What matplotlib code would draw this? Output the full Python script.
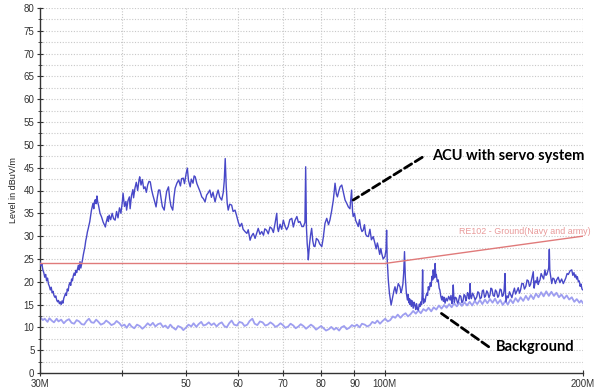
import matplotlib
matplotlib.use("Agg")
import matplotlib.pyplot as plt
from matplotlib.ticker import FixedLocator, NullFormatter

# ---------------- data (frequency MHz, level dBuV/m) ----------------
acu_points = [
    (30.0, 24.3), (30.1, 23.5), (30.2, 23.9), (30.3, 22.6), (30.4, 22.0), (30.5, 21.0), (30.6, 21.6),
    (30.7, 20.2), (30.8, 20.8), (30.9, 19.5), (31.0, 19.0), (31.1, 18.2), (31.2, 18.8), (31.3, 17.6),
    (31.4, 17.9), (31.5, 17.0), (31.6, 16.6), (31.7, 16.9), (31.8, 16.0), (31.9, 15.6), (32.0, 15.9),
    (32.1, 15.2), (32.2, 15.6), (32.3, 15.0), (32.4, 15.8), (32.5, 15.3), (32.6, 16.4), (32.7, 16.9),
    (32.8, 17.5), (32.9, 17.0), (33.0, 18.4), (33.1, 18.0), (33.2, 19.3), (33.3, 19.8), (33.4, 19.2),
    (33.5, 20.6), (33.6, 20.2), (33.7, 21.3), (33.8, 21.9), (33.9, 21.4), (34.0, 22.5), (34.1, 22.0),
    (34.2, 22.8), (34.3, 23.6), (34.4, 22.6), (34.5, 24.4), (34.6, 23.0), (34.7, 23.9), (34.8, 24.8),
    (34.9, 25.9), (35.0, 26.8), (35.1, 27.7), (35.2, 29.0), (35.3, 29.8), (35.4, 30.9), (35.5, 31.6),
    (35.6, 32.4), (35.7, 33.2), (35.8, 34.4), (35.9, 35.6), (36.0, 36.4), (36.1, 37.2), (36.2, 36.0),
    (36.3, 37.6), (36.4, 38.0), (36.5, 37.1), (36.6, 38.8), (36.7, 37.5), (36.8, 36.8), (36.9, 35.9),
    (37.0, 35.0), (37.2, 34.2), (37.4, 33.1), (37.6, 32.4), (37.7, 32.0), (37.8, 33.0), (38.0, 34.3),
    (38.1, 33.2), (38.2, 34.6), (38.4, 33.6), (38.6, 35.0), (38.8, 33.8), (39.0, 33.5), (39.2, 35.4),
    (39.4, 34.0), (39.6, 36.2), (39.8, 35.0), (40.0, 37.5), (40.1, 39.4), (40.3, 36.5), (40.5, 37.6),
    (40.6, 35.7), (40.8, 37.8), (41.0, 38.6), (41.1, 36.0), (41.3, 38.9), (41.5, 40.2), (41.6, 38.4),
    (41.8, 40.5), (42.0, 41.8), (42.2, 40.0), (42.4, 42.3), (42.5, 43.0), (42.7, 41.2), (42.9, 42.4),
    (43.1, 40.4), (43.3, 40.8), (43.5, 39.6), (43.7, 41.2), (43.9, 42.0), (44.1, 41.9), (44.3, 40.2),
    (44.5, 39.0), (44.7, 38.0), (45.0, 36.4), (45.2, 38.5), (45.4, 40.1), (45.6, 40.1), (45.8, 38.2),
    (46.0, 36.5), (46.3, 35.7), (46.5, 38.0), (46.7, 39.8), (47.0, 40.8), (47.2, 38.2), (47.4, 36.6),
    (47.7, 35.7), (47.9, 38.5), (48.1, 40.5), (48.4, 41.6), (48.7, 42.3), (49.0, 41.0), (49.2, 42.6),
    (49.5, 42.7), (49.7, 41.5), (50.0, 43.8), (50.2, 44.9), (50.4, 42.2), (50.7, 40.8), (50.9, 42.5),
    (51.2, 41.6), (51.4, 43.2), (51.6, 43.0), (51.9, 41.5), (52.2, 40.6), (52.5, 39.7), (52.8, 38.6),
    (53.1, 38.2), (53.4, 37.5), (53.7, 39.0), (54.0, 39.5), (54.3, 40.1), (54.6, 38.5), (54.9, 39.6),
    (55.3, 37.5), (55.6, 39.0), (55.9, 40.1), (56.2, 38.6), (56.6, 37.9), (56.9, 39.5), (57.1, 42.0),
    (57.3, 47.0), (57.5, 41.0), (57.7, 37.2), (57.9, 35.7), (58.2, 37.0), (58.6, 36.8), (58.9, 35.4),
    (59.3, 35.7), (59.6, 34.6), (60.0, 33.0), (60.3, 32.1), (60.7, 32.8), (61.0, 31.5), (61.4, 31.0),
    (61.8, 30.6), (62.1, 31.4), (62.5, 29.1), (62.8, 30.0), (63.2, 30.6), (63.6, 29.5), (64.0, 30.8),
    (64.3, 31.7), (64.7, 30.4), (65.1, 31.0), (65.5, 30.2), (65.8, 31.6), (66.2, 31.3), (66.6, 30.5),
    (67.0, 32.0), (67.4, 31.7), (67.8, 30.8), (68.2, 32.8), (68.6, 35.0), (68.8, 31.8), (69.0, 31.0),
    (69.4, 32.6), (69.8, 31.5), (70.2, 33.5), (70.6, 32.2), (71.0, 31.4), (71.4, 32.1), (71.8, 33.6),
    (72.3, 33.9), (72.7, 32.0), (73.1, 33.4), (73.6, 34.3), (74.0, 33.0), (74.4, 33.2), (74.9, 32.1),
    (75.3, 32.1), (75.7, 33.0), (75.9, 45.2), (76.1, 32.0), (76.3, 28.4), (76.5, 26.5), (76.6, 24.8),
    (76.9, 28.0), (77.2, 30.2), (77.5, 31.7), (77.8, 29.0), (78.1, 27.8), (78.4, 27.7), (78.8, 29.5),
    (79.3, 29.1), (79.7, 28.3), (80.3, 27.7), (80.7, 29.6), (81.2, 32.8), (81.7, 33.9), (82.2, 32.5),
    (82.6, 33.5), (83.1, 35.5), (83.6, 37.9), (84.1, 41.6), (84.5, 39.2), (84.8, 38.6), (85.2, 39.8),
    (85.6, 40.8), (86.1, 41.2), (86.6, 39.5), (87.1, 37.9), (87.6, 37.2), (88.1, 36.4), (88.6, 36.0),
    (89.1, 40.1), (89.4, 35.5), (89.6, 34.3), (90.0, 35.0), (90.4, 33.4), (90.8, 32.8), (91.2, 32.1),
    (91.6, 33.6), (92.0, 31.8), (92.4, 31.0), (92.8, 31.3), (93.2, 32.5), (93.6, 30.4), (94.0, 30.0),
    (94.5, 29.9), (95.0, 31.5), (95.5, 29.2), (96.1, 29.9), (96.6, 28.6), (97.1, 27.2), (97.5, 28.5),
    (97.8, 27.7), (98.3, 26.0), (98.7, 27.3), (99.0, 26.2), (99.5, 25.0), (100.1, 25.5), (100.5, 27.0),
    (100.7, 31.3), (100.9, 25.0), (101.3, 20.4), (101.7, 17.5), (102.0, 16.2), (102.3, 14.9), (102.8, 16.5),
    (103.3, 18.0), (103.7, 18.9), (104.2, 17.4), (104.6, 18.8), (104.9, 19.6), (105.5, 18.9), (105.9, 17.6),
    (106.2, 18.2), (106.6, 19.5), (106.9, 22.0), (107.2, 26.6), (107.5, 21.0), (107.9, 17.5), (108.3, 16.0),
    (108.6, 17.2), (108.8, 15.4), (109.1, 16.3), (109.3, 15.0), (109.6, 16.0), (109.8, 14.6), (110.2, 15.8),
    (110.5, 14.2), (110.9, 15.5), (111.2, 14.8), (111.5, 13.9), (111.8, 15.2), (112.2, 14.0), (112.5, 13.8),
    (112.9, 15.1), (113.2, 14.6), (113.5, 15.6), (113.8, 15.0), (114.0, 17.0), (114.2, 22.6), (114.4, 16.5),
    (114.6, 15.3), (114.8, 16.2), (115.2, 15.6), (115.5, 16.8), (115.9, 17.5), (116.2, 17.0), (116.5, 18.9),
    (116.9, 18.2), (117.3, 19.8), (117.6, 19.0), (118.0, 21.2), (118.3, 20.4), (118.5, 22.6), (118.8, 20.8),
    (119.0, 21.5), (119.3, 24.0), (119.6, 21.0), (119.8, 21.6), (120.2, 20.0), (120.6, 20.4), (121.0, 18.6),
    (121.3, 18.2), (121.7, 16.8), (122.1, 16.0), (122.4, 16.8), (122.8, 15.7), (123.1, 16.6), (123.5, 15.3),
    (124.0, 16.4), (124.5, 15.8), (125.1, 16.8), (125.7, 16.0), (126.1, 17.0), (126.5, 15.2), (126.8, 16.4),
    (127.1, 19.3), (127.4, 16.2), (127.6, 15.5), (128.0, 16.6), (128.5, 16.4), (129.0, 15.3), (129.4, 15.6),
    (130.0, 17.0), (130.5, 16.8), (131.0, 15.4), (131.5, 15.8), (132.0, 17.2), (132.5, 16.9), (132.8, 15.8),
    (133.2, 16.4), (133.6, 17.6), (134.0, 17.2), (134.4, 16.2), (134.8, 19.6), (135.1, 16.8), (135.4, 16.3),
    (136.0, 17.5), (136.5, 17.0), (137.2, 16.0), (138.0, 16.7), (138.5, 17.8), (139.0, 17.6), (139.6, 16.3),
    (140.2, 16.5), (140.7, 18.0), (141.2, 18.2), (141.8, 16.6), (142.3, 16.9), (142.9, 18.0), (143.4, 17.6),
    (144.0, 16.5), (144.5, 17.1), (145.0, 18.6), (145.5, 18.4), (146.1, 17.0), (146.7, 16.8), (147.3, 18.2),
    (147.9, 17.8), (148.5, 16.6), (149.0, 16.9), (149.7, 18.4), (150.3, 18.2), (150.8, 16.8), (151.3, 17.0),
    (151.8, 18.0), (152.3, 21.8), (152.6, 17.0), (152.8, 15.6), (153.4, 16.9), (154.0, 16.5), (154.7, 17.8),
    (155.3, 17.2), (156.0, 16.5), (156.8, 17.8), (157.4, 18.6), (158.0, 17.3), (158.8, 18.0), (159.5, 18.7),
    (160.2, 17.5), (160.8, 18.2), (161.5, 19.6), (162.3, 19.6), (163.0, 18.4), (163.8, 19.0), (164.5, 20.4),
    (165.2, 20.2), (165.9, 19.0), (166.5, 19.4), (167.3, 20.8), (168.1, 22.2), (168.4, 19.6), (168.6, 18.6),
    (169.3, 20.2), (170.0, 19.8), (170.5, 21.0), (171.0, 19.4), (171.6, 20.0), (172.1, 20.4), (172.8, 21.8),
    (173.5, 21.2), (174.3, 20.6), (175.1, 22.6), (175.7, 21.4), (176.3, 21.6), (176.9, 22.4), (177.4, 23.0),
    (177.8, 27.1), (178.1, 22.6), (178.3, 22.0), (178.8, 20.8), (179.3, 19.6), (180.0, 20.8), (180.8, 20.6),
    (181.6, 19.6), (182.4, 20.4), (183.4, 21.0), (184.5, 19.8), (185.6, 20.6), (186.7, 19.6), (187.5, 20.2),
    (188.3, 20.8), (189.2, 21.8), (190.0, 21.6), (191.2, 22.4), (192.3, 22.6), (193.0, 21.4), (193.8, 22.0),
    (194.4, 21.0), (195.0, 21.5), (195.6, 20.6), (196.1, 21.1), (196.8, 20.0), (197.4, 20.2), (198.0, 19.0),
    (198.6, 19.5), (199.3, 18.4), (200.0, 18.2),
]

bg_points = [
    (30.0, 12.3), (30.3, 11.6), (30.5, 11.9), (30.8, 11.2), (31.0, 12.0), (31.3, 11.4), (31.5, 11.1),
    (31.8, 11.9), (32.0, 11.3), (32.3, 11.7), (32.6, 10.9), (32.9, 11.5), (33.2, 11.8), (33.5, 11.0),
    (33.8, 10.8), (34.1, 11.6), (34.4, 11.3), (34.7, 10.7), (35.0, 10.6), (35.3, 11.4), (35.6, 11.9),
    (35.9, 11.1), (36.2, 11.0), (36.5, 11.7), (36.8, 11.2), (37.1, 10.6), (37.5, 10.9), (37.8, 11.5),
    (38.2, 11.0), (38.5, 10.5), (38.9, 10.8), (39.2, 11.4), (39.6, 10.9), (39.9, 10.3), (40.3, 10.6),
    (40.6, 9.9), (41.0, 10.8), (41.3, 10.2), (41.7, 9.8), (42.1, 10.6), (42.5, 10.3), (42.9, 9.7),
    (43.3, 10.2), (43.7, 10.9), (44.1, 10.4), (44.5, 11.0), (44.9, 10.2), (45.3, 10.7), (45.7, 10.9),
    (46.1, 10.1), (46.5, 10.4), (46.9, 9.8), (47.3, 10.6), (47.7, 10.0), (48.2, 9.5), (48.6, 10.3),
    (49.1, 10.0), (49.5, 9.4), (50.0, 10.0), (50.4, 10.6), (50.9, 10.2), (51.3, 10.9), (51.8, 10.1),
    (52.2, 10.7), (52.7, 11.2), (53.1, 10.4), (53.6, 10.6), (54.1, 11.1), (54.6, 10.5), (55.1, 10.9),
    (55.6, 10.2), (56.1, 10.8), (56.6, 11.1), (57.1, 10.3), (57.6, 10.0), (58.1, 10.9), (58.6, 11.5),
    (59.1, 10.6), (59.7, 10.4), (60.2, 11.2), (60.8, 11.0), (61.3, 10.3), (61.9, 10.6), (62.4, 11.4),
    (63.0, 11.9), (63.5, 10.8), (64.1, 10.5), (64.7, 11.3), (65.3, 11.1), (65.9, 10.4), (66.5, 10.6),
    (67.1, 11.1), (67.7, 10.7), (68.3, 10.1), (68.9, 10.4), (69.5, 10.9), (70.1, 10.5), (70.7, 9.9),
    (71.4, 10.2), (72.0, 10.8), (72.7, 10.4), (73.3, 9.8), (74.0, 10.2), (74.6, 10.7), (75.3, 10.3),
    (76.0, 9.7), (76.6, 10.1), (77.3, 10.6), (78.0, 10.2), (78.7, 9.5), (79.4, 9.9), (80.1, 10.3),
    (80.8, 9.8), (81.5, 9.3), (82.3, 9.6), (83.0, 10.1), (83.8, 9.5), (84.5, 9.9), (85.3, 9.3),
    (86.0, 10.0), (86.8, 10.3), (87.6, 9.6), (88.4, 9.9), (89.2, 10.5), (90.0, 10.2), (90.8, 10.6),
    (91.6, 10.0), (92.4, 10.8), (93.3, 10.6), (94.1, 10.2), (95.0, 10.5), (95.8, 11.2), (96.7, 10.9),
    (97.5, 11.5), (98.4, 10.8), (99.3, 11.4), (100.2, 11.9), (101.1, 11.3), (102.0, 11.6), (102.9, 12.4),
    (103.8, 12.1), (104.7, 12.8), (105.7, 12.1), (106.6, 12.7), (107.6, 13.1), (108.5, 12.4), (109.5, 12.9),
    (110.5, 13.6), (111.5, 13.0), (112.5, 13.7), (113.5, 13.1), (114.5, 14.0), (115.6, 13.6), (116.6, 14.3),
    (117.7, 13.5), (118.7, 14.4), (119.8, 13.9), (120.9, 14.8), (122.0, 14.1), (123.1, 14.9), (124.2, 14.3),
    (125.3, 15.1), (126.4, 14.4), (127.5, 15.3), (128.7, 14.6), (129.9, 15.4), (131.0, 14.7), (132.2, 15.5),
    (133.4, 14.8), (134.6, 15.6), (135.8, 14.8), (137.0, 15.8), (138.2, 15.1), (139.5, 16.0), (140.7, 15.1),
    (142.0, 16.1), (143.2, 15.3), (144.5, 16.2), (145.8, 15.4), (147.1, 16.3), (148.4, 15.2), (149.8, 16.0),
    (151.1, 14.9), (152.5, 15.8), (153.8, 15.0), (155.2, 16.1), (156.6, 15.3), (158.0, 16.4), (159.4, 15.6),
    (160.8, 16.6), (162.3, 15.8), (163.8, 16.9), (165.2, 16.0), (166.7, 17.1), (168.2, 16.2), (169.7, 17.4),
    (171.2, 16.6), (172.8, 17.7), (174.3, 16.8), (175.9, 17.9), (177.5, 16.9), (179.1, 17.8), (180.7, 16.9),
    (182.3, 17.6), (183.9, 16.6), (185.5, 17.2), (187.2, 16.3), (188.9, 17.0), (190.6, 16.1), (192.3, 16.6),
    (194.0, 15.6), (195.7, 16.2), (197.5, 15.4), (198.7, 15.9), (200.0, 15.3),
]

acu_freq = [p[0] for p in acu_points]
acu_level = [p[1] for p in acu_points]
bg_freq = [p[0] for p in bg_points]
bg_level = [p[1] for p in bg_points]

limit_freq = [30.0, 100.0, 200.0]
limit_level = [24.0, 24.0, 30.0]

x_ticks = [30, 40, 50, 60, 70, 80, 90, 100, 200]
x_tick_labels = ["30M", "", "50", "60", "70", "80", "90", "100M", "200M"]
y_ticks = list(range(0, 81, 5))

# ---------------- figure ----------------
fig = plt.figure(figsize=(5.94, 3.91), dpi=100)
ax = fig.add_axes([40 / 594, 1 - 373 / 391, 543 / 594, 365 / 391])
ax.set_xscale("log")
ax.set_xlim(30, 200)
ax.set_ylim(0, 80)

grid_kw = dict(color="#c8c8c8", linestyle=(0, (1, 1.5)), linewidth=0.8, zorder=0)
for yv in [i * 2.5 for i in range(1, 33)]:
    ax.axhline(yv, **grid_kw)
for xv in [40, 50, 60, 70, 80, 90, 100, 200]:
    ax.axvline(xv, **grid_kw)

ax.plot(bg_freq, bg_level, color="#9e9ef0", linewidth=1.3, zorder=2)
ax.plot(acu_freq, acu_level, color="#4848c8", linewidth=1.0, zorder=3)
ax.plot(limit_freq, limit_level, color="#e07a7a", linewidth=1.0, zorder=4)

ax.xaxis.set_major_locator(FixedLocator(x_ticks))
ax.xaxis.set_minor_locator(FixedLocator([]))
ax.xaxis.set_minor_formatter(NullFormatter())
ax.set_xticklabels(x_tick_labels)
ax.set_yticks(y_ticks)
ax.set_yticks([i * 2.5 for i in range(0, 33)], minor=True)

for s in ["top", "right"]:
    ax.spines[s].set_visible(False)
for s in ["left", "bottom"]:
    ax.spines[s].set_color("#333333")
    ax.spines[s].set_linewidth(1.0)

ax.tick_params(axis="both", which="major", direction="inout", length=4, width=0.8,
               labelsize=7, colors="#333333", pad=2)
ax.tick_params(axis="y", which="minor", direction="inout", length=3, width=0.6, color="#333333")
for lab in ax.get_xticklabels() + ax.get_yticklabels():
    lab.set_family("Liberation Sans")

ax.set_ylabel("Level in dBuV/m", fontsize=6.5, family="Liberation Sans", color="#222222", labelpad=4)

ax.text(1.0147, 31.1, "RE102 - Ground(Navy and army)", color="#e89a9a", fontsize=6.4,
        ha="right", va="center", family="Liberation Sans", zorder=5,
        transform=ax.get_yaxis_transform(), clip_on=False)

ax.annotate("", xy=(88.9, 37.6), xytext=(115.0, 47.6),
            arrowprops=dict(arrowstyle="-", linestyle=(0, (3, 1.5)), color="black", lw=2.0))
ax.text(118.0, 47.5, "ACU with servo system", fontsize=10.5, fontweight="bold",
        family="Lato", ha="left", va="center", color="black")

ax.annotate("", xy=(121.0, 13.4), xytext=(145.0, 5.4),
            arrowprops=dict(arrowstyle="-", linestyle=(0, (3, 1.5)), color="black", lw=2.0))
ax.text(147.5, 5.7, "Background", fontsize=10.5, fontweight="bold",
        family="Lato", ha="left", va="center", color="black")

fig.savefig("out.png", dpi=100)
